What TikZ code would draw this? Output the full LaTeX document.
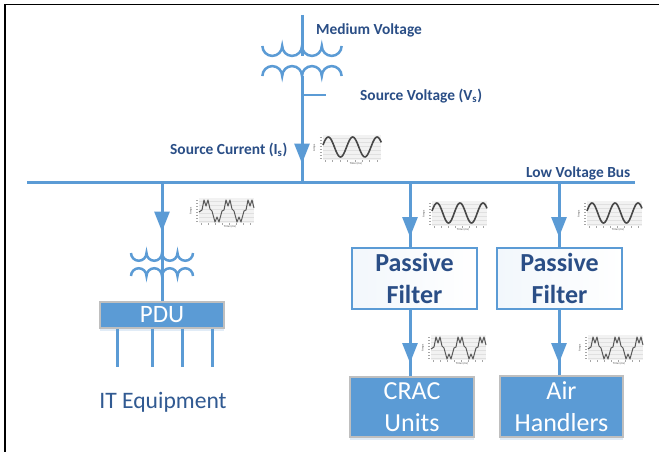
\documentclass[tikz,border=0pt]{standalone}
\usepackage{fontspec}
\setmainfont{Carlito}
\usetikzlibrary{arrows.meta,shadows}
\definecolor{linec}{HTML}{5B9BD5}
\definecolor{navy}{HTML}{2A4E86}
\definecolor{boxg}{HTML}{BFBFBF}
\tikzset{
  x=1pt,y=-1pt,
  wire/.style={draw=linec,line width=3pt},
  coil/.style={draw=linec,line width=2.5pt},
  bus/.style={draw=linec,line width=2.6pt},
  flow/.style={wire,-{Triangle[length=20pt,width=15pt,fill=linec]}},
  lab/.style={font=\bfseries\fontsize{15.4}{17}\selectfont,text=navy,inner sep=0pt},
  filterbox/.style={draw=linec,line width=2pt,left color=linec!8,right color=white,align=center,text=navy,font=\bfseries\fontsize{26}{32}\selectfont,inner sep=0pt},
  loadbox/.style={draw=boxg,line width=1.4pt,fill=linec,text=white,align=center,inner sep=0pt,font=\fontsize{26}{32}\selectfont,drop shadow={shadow xshift=0pt,shadow yshift=-3pt,opacity=.18,fill=linec}},
  trace/.style={draw=black!72,line width=1.6pt,line join=round},
  axismark/.style={draw=black!35,line width=.5pt},
  tinytext/.style={text=black!70,inner sep=0pt},
}
\newcommand{\plotframe}{%
    \fill[black!5] (0,0) rectangle (55,25);
    \foreach \yy in {3,7,11,15,19,23}{\draw[black!12,line width=.25pt] (0,\yy) -- (55,\yy);}
    \foreach \tt in {2,9,...,55}{\draw[axismark] (\tt,25) -- (\tt,26.5);}
    \foreach \yy in {2,5,...,24}{\draw[axismark] (-3,\yy) -- (-1,\yy);}
    \node[tinytext,font=\fontsize{3}{3}\selectfont] at (31,28.5) {Time (ms)};
    \node[tinytext,font=\fontsize{3}{3}\selectfont,rotate=90] at (-8,13) {Amps};}
\newcommand{\sinewave}[3]{%
  \begin{scope}[shift={(#1,#2)},xscale=#3]
    \plotframe
    \draw[trace,domain=0:55,samples=70,smooth] plot (\x,{12-10*cos((\x-5)*15.65)});
  \end{scope}}
\newcommand{\distwave}[2]{%
  \begin{scope}[shift={(#1,#2)}]
    \plotframe
    \draw[draw=black!65,line width=1pt,line join=round] (0,14) -- (3,12) -- (5,2) -- (7,8) -- (9,2) -- (11,11) -- (13,13) -- (16,24) -- (18,19) -- (20,24) -- (23,13) -- (25,12) -- (27,2) -- (29,8) -- (31,2) -- (33,11) -- (35,13) -- (38,24) -- (40,19) -- (42,24) -- (45,13) -- (47,12) -- (49,2) -- (51,8) -- (53,2) -- (55,10);
  \end{scope}}
\newcommand{\coilscup}[3]{% x, baseline y, radius: row of cups
  \draw[coil] (#1-4*#3,#2) arc[start angle=180,end angle=0,radius=#3] arc[start angle=180,end angle=0,radius=#3] arc[start angle=180,end angle=0,radius=#3] arc[start angle=180,end angle=0,radius=#3];}
\newcommand{\coilshump}[3]{% x, baseline y, radius: row of humps
  \draw[coil] (#1-4*#3,#2) arc[start angle=180,end angle=360,radius=#3] arc[start angle=180,end angle=360,radius=#3] arc[start angle=180,end angle=360,radius=#3] arc[start angle=180,end angle=360,radius=#3];}
\begin{document}
\begin{tikzpicture}
\useasboundingbox (0,0) rectangle (659,452);
\fill[white] (0,0) rectangle (659,452);
% frame
\draw[black,line width=1.6pt] (4.8,452) -- (4.8,4.5) -- (659,4.5);
% named anchors
\coordinate (mvtop) at (302,15);
\coordinate (busL) at (27,182.7);
\coordinate (busR) at (635,182.7);
\coordinate (tap) at (302,182.7);
\coordinate (vstub) at (326,95);
\coordinate (vjoin) at (302,95);
\coordinate (xfb) at (302,76);
\coordinate (it) at (162,182.7);
\coordinate (pf1top) at (410,182.7);
\coordinate (pf2top) at (559,182.7);
% source transformer
\draw[wire] (mvtop) -- (302,56);
\coilscup{302}{46}{9.9}
\coilshump{302}{76}{9.9}
\draw[wire] (xfb) -- (tap);
\draw[bus] (vjoin) -- (vstub);
\draw[flow] (302,135) -- (302,163.5);
\draw[bus] (busL) -- (busR);
% PDU
\node[loadbox,minimum width=124pt,minimum height=26pt,font=\fontsize{25}{28}\selectfont] (pdu) at (162,315) {PDU};
\draw[wire] (it) -- (pdu.north -| it);
\draw[flow] (it) -- (162,231.5);
\coilscup{162}{253}{7.75}
\coilshump{162}{276}{7.75}
\foreach \n/\xx in {a/117,b/152,c/182,d/212}{
  \coordinate (lead\n) at (\xx,367);
  \draw[wire] (pdu.south -| lead\n) -- (lead\n);
}
\node[font=\fontsize{23.6}{26}\selectfont,text=navy!85!linec,inner sep=0pt] (iteq) at (163,402) {IT Equipment};
% filters and loads
\node[filterbox,minimum width=125pt,minimum height=61pt] (pf1) at (414.5,278.5) {Passive\\Filter};
\node[filterbox,minimum width=125pt,minimum height=61pt] (pf2) at (559.5,278.5) {Passive\\Filter};
\node[loadbox,minimum width=124pt,minimum height=60pt] (crac) at (412,407) {CRAC\\Units};
\node[loadbox,minimum width=123pt,minimum height=61pt] (air) at (561.5,406.5) {Air\\Handlers};
\draw[wire] (pf1top) -- (pf1.north -| pf1top);
\draw[flow] (pf1top) -- (410,237);
\draw[wire] (pf2top) -- (pf2.north -| pf2top);
\draw[flow] (pf2top) -- (559,237);
\draw[wire] (pf1.south -| pf1top) -- (crac.north -| pf1top);
\draw[flow] (pf1.south -| pf1top) -- (410,363);
\draw[wire] (pf2.south -| pf2top) -- (air.north -| pf2top);
\draw[flow] (pf2.south -| pf2top) -- (559,363);
% labels
\node[lab,anchor=west] (mv) at (316,30) {Medium Voltage};
\node[lab,anchor=west] (sv) at (360,96) {Source Voltage (V\textsubscript{s})};
\node[lab,anchor=west] (sc) at (170,150) {Source Current (I\textsubscript{s})};
\node[lab,anchor=west] (lv) at (526,173) {Low Voltage Bus};
% waveforms
\sinewave{323}{135}{1.06}
\distwave{199}{198}
\sinewave{432}{201}{1}
\sinewave{587}{201}{1}
\distwave{431}{335}
\distwave{588}{335}
\end{tikzpicture}
\end{document}
